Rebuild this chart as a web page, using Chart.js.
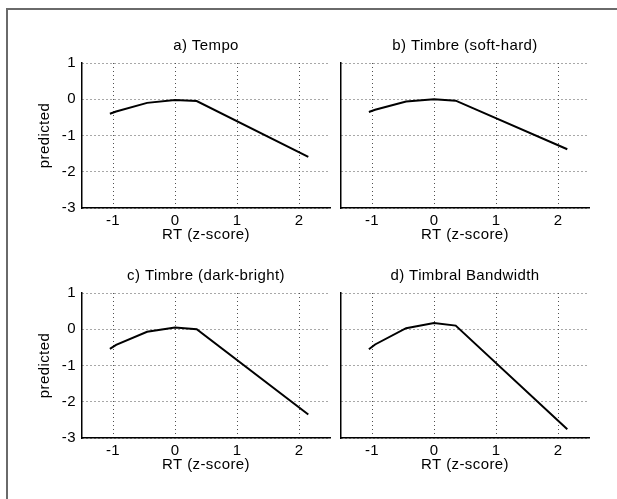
<!DOCTYPE html>
<html>
<head>
<meta charset="utf-8">
<script src="https://cdn.jsdelivr.net/npm/chart.js@4"></script>
<style>
  html, body { margin: 0; padding: 0; background: #fff; overflow: hidden; }
  #wrap { position: relative; width: 617px; height: 499px; overflow: hidden; }
  #wrap canvas { position: absolute; left: 0; top: 0; }
  #frame { position: absolute; left: 6px; top: 8px; width: 611px; height: 491px;
           border-left: 2px solid #6a6a6a; border-top: 2px solid #6a6a6a; box-sizing: border-box; }
</style>
</head>
<body>
<div id="wrap">
  <div id="frame"></div>
  <canvas id="c0" width="617" height="499"></canvas>
  <canvas id="c1" width="617" height="499"></canvas>
  <canvas id="c2" width="617" height="499"></canvas>
  <canvas id="c3" width="617" height="499"></canvas>
</div>
<script>
// ---- data ----
const panelTitles = ["a) Tempo", "b) Timbre (soft-hard)", "c) Timbre (dark-bright)", "d) Timbral Bandwidth"];
const rtValues = [-1.05, -0.95, -0.45, 0, 0.35, 2.15];
const tempoPred = [-0.40, -0.34, -0.10, -0.02, -0.05, -1.59];
const softHardPred = [-0.35, -0.29, -0.06, 0.00, -0.04, -1.38];
const darkBrightPred = [-0.54, -0.43, -0.07, 0.05, 0.00, -2.35];
const bandwidthPred = [-0.55, -0.42, 0.03, 0.17, 0.10, -2.76];
const xTickValues = [-1, 0, 1, 2];
const yTickValues = [-3, -2, -1, 0, 1];
const xLabel = "RT (z-score)";
const yLabel = "predicted";

const series = [tempoPred, softHardPred, darkBrightPred, bandwidthPred];

Chart.defaults.color = '#000';
Chart.defaults.font.family = '"Liberation Sans", Arial, Helvetica, sans-serif';

// the reference text is slightly wide: add a little letter spacing
const spacingPlugin = {
  id: 'spacing',
  beforeDraw(chart) { chart.ctx.letterSpacing = '0.4px'; }
};

const W = 617, H = 499;
// chart areas (left, top, right, bottom) per panel
const areas = [
  [82, 63, 330, 208],
  [341, 63, 589, 208],
  [82, 293, 330, 438],
  [341, 293, 589, 438]
];
const FS = 15;
const titleLH = FS * 1.2;
const titleGap = 8;
const xAxisH = 40;

series.forEach((vals, i) => {
  const [L, T, R, B] = areas[i];
  const showY = (i % 2 === 0);
  const yAxisW = showY ? 46 : 0;
  const pts = rtValues.map((x, k) => ({ x: x, y: vals[k] }));
  new Chart(document.getElementById('c' + i), {
    type: 'line',
    data: {
      datasets: [{
        data: pts,
        borderColor: '#000',
        borderWidth: 2,
        pointRadius: 0,
        tension: 0,
        fill: false
      }]
    },
    plugins: [spacingPlugin],
    options: {
      responsive: false,
      animation: false,
      events: [],
      layout: {
        padding: {
          left: L - yAxisW,
          right: W - R,
          top: T - titleLH - titleGap,
          bottom: H - (B + xAxisH)
        }
      },
      plugins: {
        legend: { display: false },
        tooltip: { enabled: false },
        title: {
          display: true,
          text: panelTitles[i],
          fullSize: false,
          font: { size: FS, weight: 'normal', lineHeight: 1.2 },
          padding: { top: 0, bottom: titleGap },
          color: '#000'
        }
      },
      scales: {
        x: {
          type: 'linear',
          min: -1.5,
          max: 2.5,
          afterBuildTicks: s => { s.ticks = xTickValues.map(v => ({ value: v })); },
          afterFit: s => { s.height = xAxisH; },
          ticks: { font: { size: FS }, padding: 4, color: '#000', maxRotation: 0 },
          grid: { color: '#505050', lineWidth: 1, drawTicks: false },
          border: { display: true, color: '#000', width: 1.5, dash: [1, 3] },
          title: { display: true, text: xLabel, font: { size: FS }, padding: { top: 0, bottom: 4 }, color: '#000' }
        },
        y: {
          type: 'linear',
          min: -3,
          max: 1,
          afterBuildTicks: s => { s.ticks = yTickValues.map(v => ({ value: v })); },
          afterFit: s => { s.width = yAxisW; },
          ticks: { display: showY, font: { size: FS }, padding: 6, color: '#000' },
          grid: { color: '#505050', lineWidth: 1, drawTicks: false },
          border: { display: true, color: '#000', width: 1.5, dash: [1, 3] },
          title: { display: showY, text: yLabel, font: { size: FS }, padding: { top: 0, bottom: 0 }, color: '#000' }
        }
      }
    }
  });
});
</script>
</body>
</html>
